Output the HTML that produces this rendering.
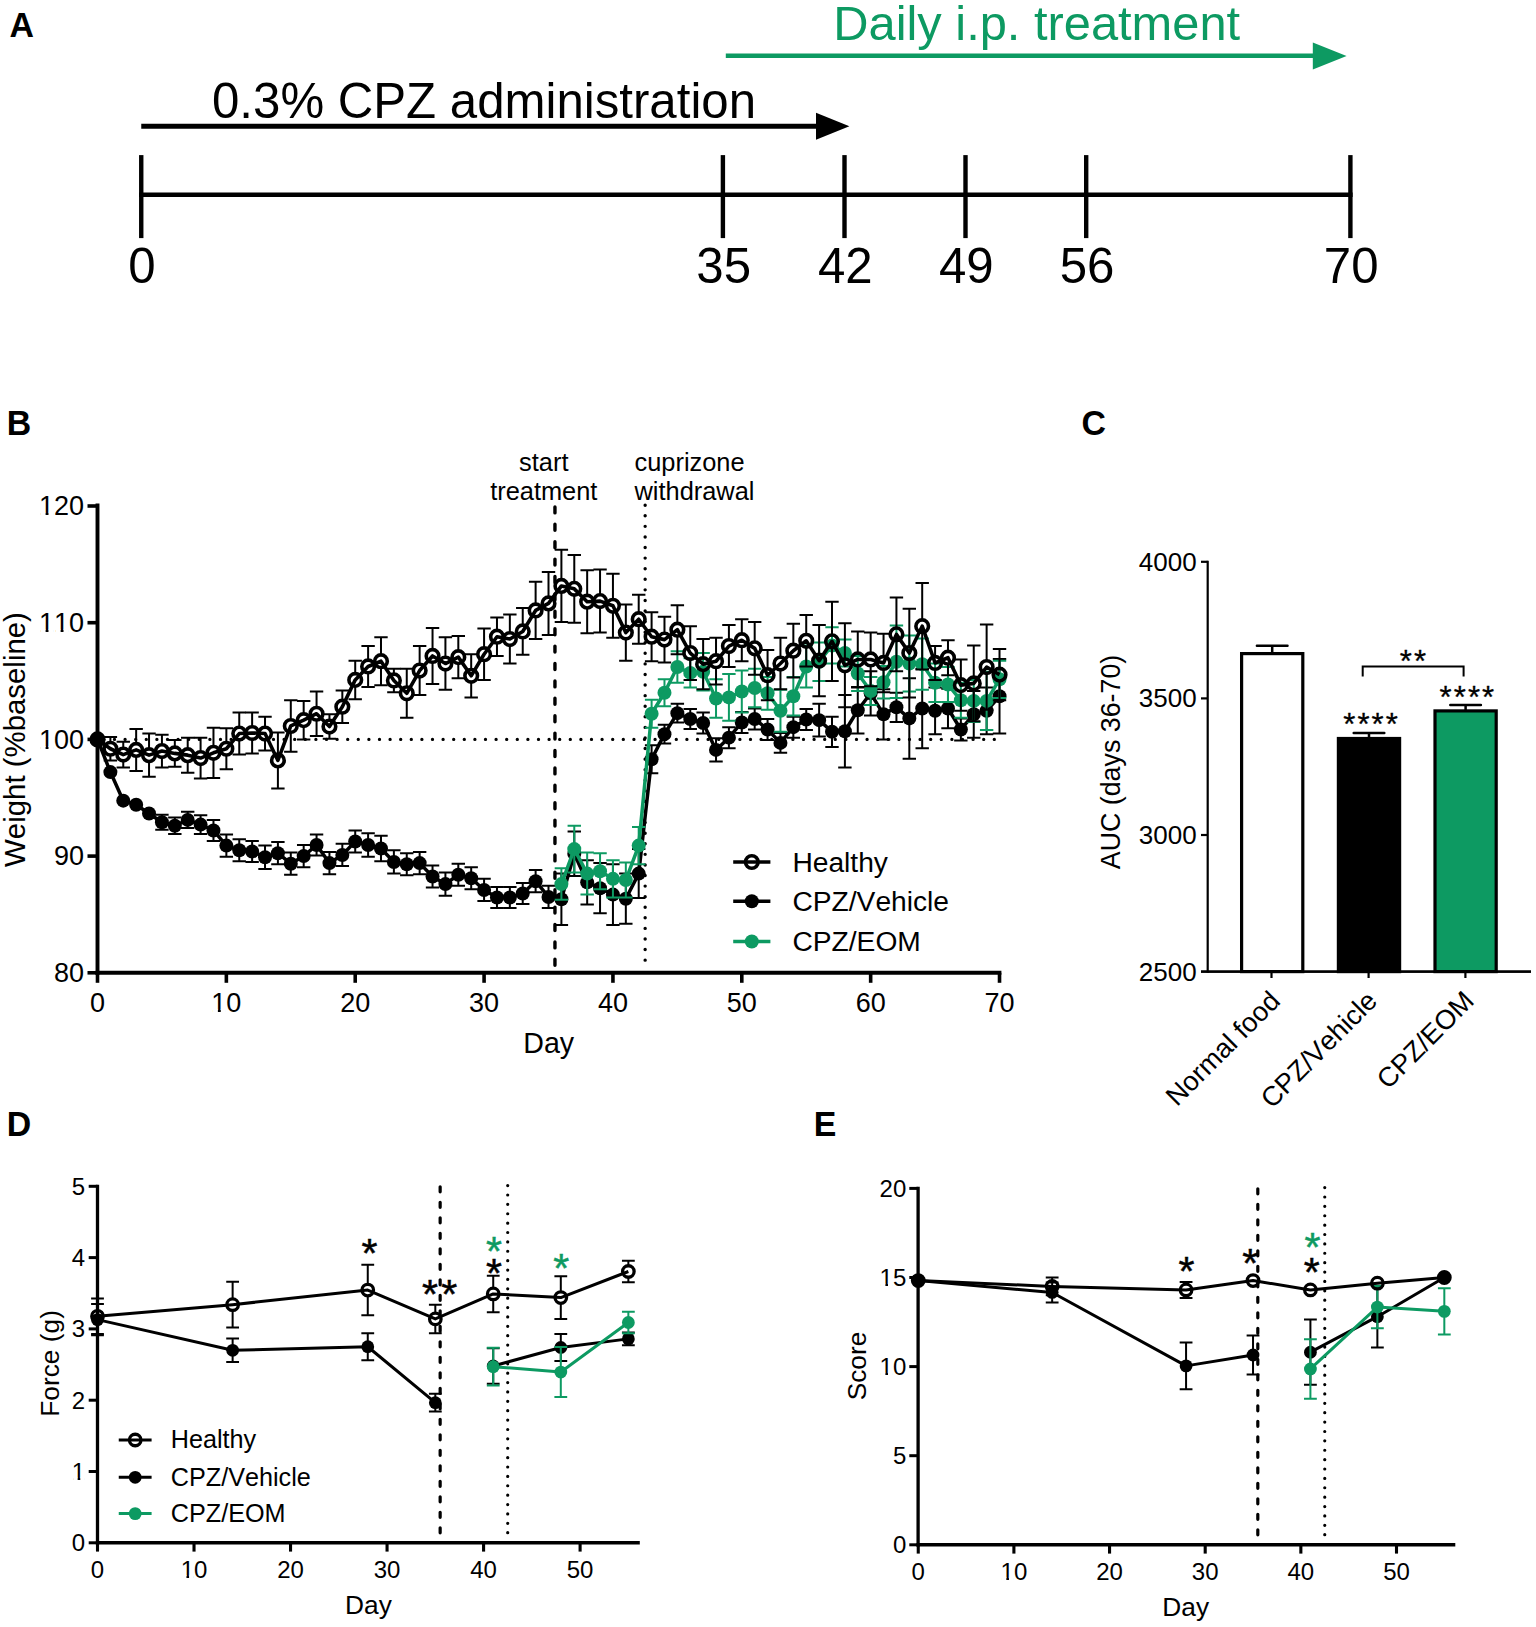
<!DOCTYPE html>
<html lang="en"><head><meta charset="utf-8"><title>Figure</title>
<style>
html,body{margin:0;padding:0;background:#fff;}
body{width:1536px;height:1627px;overflow:hidden;}
svg{display:block;font-family:'Liberation Sans', Arial, sans-serif;font-kerning:none;}
</style></head><body>
<svg width="1536" height="1627" viewBox="0 0 1536 1627">
<rect width="1536" height="1627" fill="#fff"/>
<text transform="translate(9.6,36.8) scale(0.985,1)" font-size="34.4" font-weight="bold" fill="#000">A</text>
<text transform="translate(6.7,435.0) scale(0.985,1)" font-size="34.4" font-weight="bold" fill="#000">B</text>
<text transform="translate(1081.4,435.2) scale(0.985,1)" font-size="34.4" font-weight="bold" fill="#000">C</text>
<text transform="translate(6.7,1135.8) scale(0.985,1)" font-size="34.4" font-weight="bold" fill="#000">D</text>
<text transform="translate(813.8,1135.8) scale(0.985,1)" font-size="34.4" font-weight="bold" fill="#000">E</text>
<text x="833.30" y="40.40" font-size="48.8" text-anchor="start" fill="#0d9a62" font-weight="normal" >Daily i.p. treatment</text>
<line x1="725.80" y1="55.80" x2="1318.00" y2="55.80" stroke="#0d9a62" stroke-width="4.6" />
<polygon points="1312.8,42.4 1346.6,55.9 1312.8,69.4" fill="#0d9a62"/>
<text x="212.00" y="118.00" font-size="49.2" text-anchor="start" fill="#000" font-weight="normal" >0.3% CPZ administration</text>
<line x1="141.25" y1="126.30" x2="820.00" y2="126.30" stroke="#000" stroke-width="4.9" />
<polygon points="816,112.8 849.4,126.3 816,139.8" fill="#000"/>
<line x1="139.05" y1="194.80" x2="1352.60" y2="194.80" stroke="#000" stroke-width="4.5" />
<line x1="141.25" y1="155.10" x2="141.25" y2="238.10" stroke="#000" stroke-width="4.4" />
<text x="142.05" y="283.00" font-size="49.2" text-anchor="middle" fill="#000" font-weight="normal" >0</text>
<line x1="722.90" y1="155.10" x2="722.90" y2="238.10" stroke="#000" stroke-width="4.4" />
<text x="723.70" y="283.00" font-size="49.2" text-anchor="middle" fill="#000" font-weight="normal" >35</text>
<line x1="844.50" y1="155.10" x2="844.50" y2="238.10" stroke="#000" stroke-width="4.4" />
<text x="845.30" y="283.00" font-size="49.2" text-anchor="middle" fill="#000" font-weight="normal" >42</text>
<line x1="965.50" y1="155.10" x2="965.50" y2="238.10" stroke="#000" stroke-width="4.4" />
<text x="966.30" y="283.00" font-size="49.2" text-anchor="middle" fill="#000" font-weight="normal" >49</text>
<line x1="1086.20" y1="155.10" x2="1086.20" y2="238.10" stroke="#000" stroke-width="4.4" />
<text x="1087.00" y="283.00" font-size="49.2" text-anchor="middle" fill="#000" font-weight="normal" >56</text>
<line x1="1350.40" y1="155.10" x2="1350.40" y2="238.10" stroke="#000" stroke-width="4.4" />
<text x="1351.20" y="283.00" font-size="49.2" text-anchor="middle" fill="#000" font-weight="normal" >70</text>
<line x1="994.30" y1="739.40" x2="100.00" y2="739.40" stroke="#000" stroke-width="3.3" stroke-linecap="round" stroke-dasharray="0.01 10.59"/>
<line x1="554.95" y1="506.90" x2="554.95" y2="970.00" stroke="#000" stroke-width="3.4" stroke-linecap="round" stroke-dasharray="6.0 11.4"/>
<line x1="645.15" y1="505.20" x2="645.15" y2="970.00" stroke="#000" stroke-width="3.4" stroke-linecap="round" stroke-dasharray="0.01 10.57"/>
<path d="M161.93 814.67V829.84M155.23 814.67H168.63M155.23 829.84H168.63" stroke="#000" stroke-width="2.0" fill="none"/>
<path d="M174.82 817.59V833.93M168.12 817.59H181.52M168.12 833.93H181.52" stroke="#000" stroke-width="2.0" fill="none"/>
<path d="M187.70 811.75V828.09M181.00 811.75H194.40M181.00 828.09H194.40" stroke="#000" stroke-width="2.0" fill="none"/>
<path d="M200.59 815.25V833.93M193.89 815.25H207.29M193.89 833.93H207.29" stroke="#000" stroke-width="2.0" fill="none"/>
<path d="M213.47 819.92V840.93M206.77 819.92H220.17M206.77 840.93H220.17" stroke="#000" stroke-width="2.0" fill="none"/>
<path d="M226.36 834.51V856.68M219.66 834.51H233.06M219.66 856.68H233.06" stroke="#000" stroke-width="2.0" fill="none"/>
<path d="M239.25 839.18V861.35M232.55 839.18H245.95M232.55 861.35H245.95" stroke="#000" stroke-width="2.0" fill="none"/>
<path d="M252.13 840.93V861.93M245.43 840.93H258.83M245.43 861.93H258.83" stroke="#000" stroke-width="2.0" fill="none"/>
<path d="M265.02 845.60V868.94M258.32 845.60H271.72M258.32 868.94H271.72" stroke="#000" stroke-width="2.0" fill="none"/>
<path d="M277.90 842.10V864.27M271.20 842.10H284.60M271.20 864.27H284.60" stroke="#000" stroke-width="2.0" fill="none"/>
<path d="M290.79 852.60V874.77M284.09 852.60H297.49M284.09 874.77H297.49" stroke="#000" stroke-width="2.0" fill="none"/>
<path d="M303.68 845.01V867.19M296.98 845.01H310.38M296.98 867.19H310.38" stroke="#000" stroke-width="2.0" fill="none"/>
<path d="M316.56 834.51V855.52M309.86 834.51H323.26M309.86 855.52H323.26" stroke="#000" stroke-width="2.0" fill="none"/>
<path d="M329.45 852.02V874.19M322.75 852.02H336.15M322.75 874.19H336.15" stroke="#000" stroke-width="2.0" fill="none"/>
<path d="M342.33 843.85V866.02M335.63 843.85H349.03M335.63 866.02H349.03" stroke="#000" stroke-width="2.0" fill="none"/>
<path d="M355.22 830.43V852.60M348.52 830.43H361.92M348.52 852.60H361.92" stroke="#000" stroke-width="2.0" fill="none"/>
<path d="M368.11 833.34V856.68M361.41 833.34H374.81M361.41 856.68H374.81" stroke="#000" stroke-width="2.0" fill="none"/>
<path d="M380.99 835.68V861.35M374.29 835.68H387.69M374.29 861.35H387.69" stroke="#000" stroke-width="2.0" fill="none"/>
<path d="M393.88 850.26V873.61M387.18 850.26H400.58M387.18 873.61H400.58" stroke="#000" stroke-width="2.0" fill="none"/>
<path d="M406.76 853.18V875.36M400.06 853.18H413.46M400.06 875.36H413.46" stroke="#000" stroke-width="2.0" fill="none"/>
<path d="M419.65 852.02V874.19M412.95 852.02H426.35M412.95 874.19H426.35" stroke="#000" stroke-width="2.0" fill="none"/>
<path d="M432.54 865.44V887.61M425.84 865.44H439.24M425.84 887.61H439.24" stroke="#000" stroke-width="2.0" fill="none"/>
<path d="M445.42 872.44V895.78M438.72 872.44H452.12M438.72 895.78H452.12" stroke="#000" stroke-width="2.0" fill="none"/>
<path d="M458.31 863.69V885.86M451.61 863.69H465.01M451.61 885.86H465.01" stroke="#000" stroke-width="2.0" fill="none"/>
<path d="M471.19 867.19V889.36M464.49 867.19H477.89M464.49 889.36H477.89" stroke="#000" stroke-width="2.0" fill="none"/>
<path d="M484.08 878.86V901.03M477.38 878.86H490.78M477.38 901.03H490.78" stroke="#000" stroke-width="2.0" fill="none"/>
<path d="M496.97 887.03V908.03M490.27 887.03H503.67M490.27 908.03H503.67" stroke="#000" stroke-width="2.0" fill="none"/>
<path d="M509.85 887.03V908.03M503.15 887.03H516.55M503.15 908.03H516.55" stroke="#000" stroke-width="2.0" fill="none"/>
<path d="M522.74 882.94V903.95M516.04 882.94H529.44M516.04 903.95H529.44" stroke="#000" stroke-width="2.0" fill="none"/>
<path d="M535.62 870.10V892.28M528.92 870.10H542.32M528.92 892.28H542.32" stroke="#000" stroke-width="2.0" fill="none"/>
<path d="M548.51 885.86V908.03M541.81 885.86H555.21M541.81 908.03H555.21" stroke="#000" stroke-width="2.0" fill="none"/>
<path d="M561.40 873.61V924.95M554.70 873.61H568.10M554.70 924.95H568.10" stroke="#000" stroke-width="2.0" fill="none"/>
<path d="M574.28 831.59V875.94M567.58 831.59H580.98M567.58 875.94H580.98" stroke="#000" stroke-width="2.0" fill="none"/>
<path d="M587.17 860.18V904.53M580.47 860.18H593.87M580.47 904.53H593.87" stroke="#000" stroke-width="2.0" fill="none"/>
<path d="M600.05 863.10V913.28M593.35 863.10H606.75M593.35 913.28H606.75" stroke="#000" stroke-width="2.0" fill="none"/>
<path d="M612.94 864.27V924.95M606.24 864.27H619.64M606.24 924.95H619.64" stroke="#000" stroke-width="2.0" fill="none"/>
<path d="M625.83 873.61V923.79M619.13 873.61H632.53M619.13 923.79H632.53" stroke="#000" stroke-width="2.0" fill="none"/>
<path d="M638.71 849.10V898.11M632.01 849.10H645.41M632.01 898.11H645.41" stroke="#000" stroke-width="2.0" fill="none"/>
<path d="M651.60 745.23V773.24M644.90 745.23H658.30M644.90 773.24H658.30" stroke="#000" stroke-width="2.0" fill="none"/>
<path d="M664.48 724.81V743.48M657.78 724.81H671.18M657.78 743.48H671.18" stroke="#000" stroke-width="2.0" fill="none"/>
<path d="M677.37 703.81V722.48M670.67 703.81H684.07M670.67 722.48H684.07" stroke="#000" stroke-width="2.0" fill="none"/>
<path d="M690.26 709.06V728.90M683.56 709.06H696.96M683.56 728.90H696.96" stroke="#000" stroke-width="2.0" fill="none"/>
<path d="M703.14 712.56V733.56M696.44 712.56H709.84M696.44 733.56H709.84" stroke="#000" stroke-width="2.0" fill="none"/>
<path d="M716.03 738.23V761.57M709.33 738.23H722.73M709.33 761.57H722.73" stroke="#000" stroke-width="2.0" fill="none"/>
<path d="M728.91 727.15V748.15M722.21 727.15H735.61M722.21 748.15H735.61" stroke="#000" stroke-width="2.0" fill="none"/>
<path d="M741.80 711.98V732.98M735.10 711.98H748.50M735.10 732.98H748.50" stroke="#000" stroke-width="2.0" fill="none"/>
<path d="M754.69 708.47V729.48M747.99 708.47H761.39M747.99 729.48H761.39" stroke="#000" stroke-width="2.0" fill="none"/>
<path d="M767.57 718.98V739.98M760.87 718.98H774.27M760.87 739.98H774.27" stroke="#000" stroke-width="2.0" fill="none"/>
<path d="M780.46 732.98V752.82M773.76 732.98H787.16M773.76 752.82H787.16" stroke="#000" stroke-width="2.0" fill="none"/>
<path d="M793.34 716.64V737.65M786.64 716.64H800.04M786.64 737.65H800.04" stroke="#000" stroke-width="2.0" fill="none"/>
<path d="M806.23 709.06V730.06M799.53 709.06H812.93M799.53 730.06H812.93" stroke="#000" stroke-width="2.0" fill="none"/>
<path d="M819.12 703.81V736.48M812.42 703.81H825.82M812.42 736.48H825.82" stroke="#000" stroke-width="2.0" fill="none"/>
<path d="M832.00 716.64V746.99M825.30 716.64H838.70M825.30 746.99H838.70" stroke="#000" stroke-width="2.0" fill="none"/>
<path d="M844.89 695.05V767.41M838.19 695.05H851.59M838.19 767.41H851.59" stroke="#000" stroke-width="2.0" fill="none"/>
<path d="M857.77 686.88V733.56M851.07 686.88H864.47M851.07 733.56H864.47" stroke="#000" stroke-width="2.0" fill="none"/>
<path d="M870.66 671.13V715.48M863.96 671.13H877.36M863.96 715.48H877.36" stroke="#000" stroke-width="2.0" fill="none"/>
<path d="M883.55 689.22V739.40M876.85 689.22H890.25M876.85 739.40H890.25" stroke="#000" stroke-width="2.0" fill="none"/>
<path d="M896.43 692.72V721.89M889.73 692.72H903.13M889.73 721.89H903.13" stroke="#000" stroke-width="2.0" fill="none"/>
<path d="M909.32 678.13V758.66M902.62 678.13H916.02M902.62 758.66H916.02" stroke="#000" stroke-width="2.0" fill="none"/>
<path d="M922.20 668.80V748.15M915.50 668.80H928.90M915.50 748.15H928.90" stroke="#000" stroke-width="2.0" fill="none"/>
<path d="M935.09 687.47V734.15M928.39 687.47H941.79M928.39 734.15H941.79" stroke="#000" stroke-width="2.0" fill="none"/>
<path d="M947.98 688.64V728.31M941.28 688.64H954.68M941.28 728.31H954.68" stroke="#000" stroke-width="2.0" fill="none"/>
<path d="M960.86 718.39V740.57M954.16 718.39H967.56M954.16 740.57H967.56" stroke="#000" stroke-width="2.0" fill="none"/>
<path d="M973.75 690.97V737.65M967.05 690.97H980.45M967.05 737.65H980.45" stroke="#000" stroke-width="2.0" fill="none"/>
<path d="M986.63 687.47V734.15M979.93 687.47H993.33M979.93 734.15H993.33" stroke="#000" stroke-width="2.0" fill="none"/>
<path d="M999.52 658.88V733.56M992.82 658.88H1006.22M992.82 733.56H1006.22" stroke="#000" stroke-width="2.0" fill="none"/>
<circle cx="97.50" cy="739.40" r="7.0" fill="#000"/>
<circle cx="110.39" cy="772.08" r="7.0" fill="#000"/>
<circle cx="123.27" cy="800.67" r="7.0" fill="#000"/>
<circle cx="136.16" cy="804.75" r="7.0" fill="#000"/>
<circle cx="149.04" cy="813.50" r="7.0" fill="#000"/>
<circle cx="161.93" cy="822.26" r="7.0" fill="#000"/>
<circle cx="174.82" cy="825.76" r="7.0" fill="#000"/>
<circle cx="187.70" cy="819.92" r="7.0" fill="#000"/>
<circle cx="200.59" cy="824.59" r="7.0" fill="#000"/>
<circle cx="213.47" cy="830.43" r="7.0" fill="#000"/>
<circle cx="226.36" cy="845.60" r="7.0" fill="#000"/>
<circle cx="239.25" cy="850.26" r="7.0" fill="#000"/>
<circle cx="252.13" cy="851.43" r="7.0" fill="#000"/>
<circle cx="265.02" cy="857.27" r="7.0" fill="#000"/>
<circle cx="277.90" cy="853.18" r="7.0" fill="#000"/>
<circle cx="290.79" cy="863.69" r="7.0" fill="#000"/>
<circle cx="303.68" cy="856.10" r="7.0" fill="#000"/>
<circle cx="316.56" cy="845.01" r="7.0" fill="#000"/>
<circle cx="329.45" cy="863.10" r="7.0" fill="#000"/>
<circle cx="342.33" cy="854.93" r="7.0" fill="#000"/>
<circle cx="355.22" cy="841.51" r="7.0" fill="#000"/>
<circle cx="368.11" cy="845.01" r="7.0" fill="#000"/>
<circle cx="380.99" cy="848.51" r="7.0" fill="#000"/>
<circle cx="393.88" cy="861.93" r="7.0" fill="#000"/>
<circle cx="406.76" cy="864.27" r="7.0" fill="#000"/>
<circle cx="419.65" cy="863.10" r="7.0" fill="#000"/>
<circle cx="432.54" cy="876.52" r="7.0" fill="#000"/>
<circle cx="445.42" cy="884.11" r="7.0" fill="#000"/>
<circle cx="458.31" cy="874.77" r="7.0" fill="#000"/>
<circle cx="471.19" cy="878.27" r="7.0" fill="#000"/>
<circle cx="484.08" cy="889.94" r="7.0" fill="#000"/>
<circle cx="496.97" cy="897.53" r="7.0" fill="#000"/>
<circle cx="509.85" cy="897.53" r="7.0" fill="#000"/>
<circle cx="522.74" cy="893.44" r="7.0" fill="#000"/>
<circle cx="535.62" cy="881.19" r="7.0" fill="#000"/>
<circle cx="548.51" cy="896.94" r="7.0" fill="#000"/>
<circle cx="561.40" cy="899.28" r="7.0" fill="#000"/>
<circle cx="574.28" cy="853.77" r="7.0" fill="#000"/>
<circle cx="587.17" cy="882.36" r="7.0" fill="#000"/>
<circle cx="600.05" cy="888.19" r="7.0" fill="#000"/>
<circle cx="612.94" cy="894.61" r="7.0" fill="#000"/>
<circle cx="625.83" cy="898.70" r="7.0" fill="#000"/>
<circle cx="638.71" cy="873.61" r="7.0" fill="#000"/>
<circle cx="651.60" cy="759.24" r="7.0" fill="#000"/>
<circle cx="664.48" cy="734.15" r="7.0" fill="#000"/>
<circle cx="677.37" cy="713.14" r="7.0" fill="#000"/>
<circle cx="690.26" cy="718.98" r="7.0" fill="#000"/>
<circle cx="703.14" cy="723.06" r="7.0" fill="#000"/>
<circle cx="716.03" cy="749.90" r="7.0" fill="#000"/>
<circle cx="728.91" cy="737.65" r="7.0" fill="#000"/>
<circle cx="741.80" cy="722.48" r="7.0" fill="#000"/>
<circle cx="754.69" cy="718.98" r="7.0" fill="#000"/>
<circle cx="767.57" cy="729.48" r="7.0" fill="#000"/>
<circle cx="780.46" cy="742.90" r="7.0" fill="#000"/>
<circle cx="793.34" cy="727.15" r="7.0" fill="#000"/>
<circle cx="806.23" cy="719.56" r="7.0" fill="#000"/>
<circle cx="819.12" cy="720.14" r="7.0" fill="#000"/>
<circle cx="832.00" cy="731.81" r="7.0" fill="#000"/>
<circle cx="844.89" cy="731.23" r="7.0" fill="#000"/>
<circle cx="857.77" cy="710.22" r="7.0" fill="#000"/>
<circle cx="870.66" cy="693.30" r="7.0" fill="#000"/>
<circle cx="883.55" cy="714.31" r="7.0" fill="#000"/>
<circle cx="896.43" cy="707.31" r="7.0" fill="#000"/>
<circle cx="909.32" cy="718.39" r="7.0" fill="#000"/>
<circle cx="922.20" cy="708.47" r="7.0" fill="#000"/>
<circle cx="935.09" cy="710.81" r="7.0" fill="#000"/>
<circle cx="947.98" cy="708.47" r="7.0" fill="#000"/>
<circle cx="960.86" cy="729.48" r="7.0" fill="#000"/>
<circle cx="973.75" cy="714.31" r="7.0" fill="#000"/>
<circle cx="986.63" cy="710.81" r="7.0" fill="#000"/>
<circle cx="999.52" cy="696.22" r="7.0" fill="#000"/>
<polyline points="97.50,739.40 110.39,772.08 123.27,800.67 136.16,804.75 149.04,813.50 161.93,822.26 174.82,825.76 187.70,819.92 200.59,824.59 213.47,830.43 226.36,845.60 239.25,850.26 252.13,851.43 265.02,857.27 277.90,853.18 290.79,863.69 303.68,856.10 316.56,845.01 329.45,863.10 342.33,854.93 355.22,841.51 368.11,845.01 380.99,848.51 393.88,861.93 406.76,864.27 419.65,863.10 432.54,876.52 445.42,884.11 458.31,874.77 471.19,878.27 484.08,889.94 496.97,897.53 509.85,897.53 522.74,893.44 535.62,881.19 548.51,896.94 561.40,899.28 574.28,853.77 587.17,882.36 600.05,888.19 612.94,894.61 625.83,898.70 638.71,873.61 651.60,759.24 664.48,734.15 677.37,713.14 690.26,718.98 703.14,723.06 716.03,749.90 728.91,737.65 741.80,722.48 754.69,718.98 767.57,729.48 780.46,742.90 793.34,727.15 806.23,719.56 819.12,720.14 832.00,731.81 844.89,731.23 857.77,710.22 870.66,693.30 883.55,714.31 896.43,707.31 909.32,718.39 922.20,708.47 935.09,710.81 947.98,708.47 960.86,729.48 973.75,714.31 986.63,710.81 999.52,696.22" fill="none" stroke="#000" stroke-width="3.5" stroke-linejoin="round"/>
<path d="M561.40 868.35V899.86M554.70 868.35H568.10M554.70 899.86H568.10" stroke="#0d9a62" stroke-width="2.0" fill="none"/>
<path d="M574.28 825.76V872.44M567.58 825.76H580.98M567.58 872.44H580.98" stroke="#0d9a62" stroke-width="2.0" fill="none"/>
<path d="M587.17 852.60V894.61M580.47 852.60H593.87M580.47 894.61H593.87" stroke="#0d9a62" stroke-width="2.0" fill="none"/>
<path d="M600.05 853.18V889.36M593.35 853.18H606.75M593.35 889.36H606.75" stroke="#0d9a62" stroke-width="2.0" fill="none"/>
<path d="M612.94 860.18V897.53M606.24 860.18H619.64M606.24 897.53H619.64" stroke="#0d9a62" stroke-width="2.0" fill="none"/>
<path d="M625.83 862.52V897.53M619.13 862.52H632.53M619.13 897.53H632.53" stroke="#0d9a62" stroke-width="2.0" fill="none"/>
<path d="M638.71 826.92V864.27M632.01 826.92H645.41M632.01 864.27H645.41" stroke="#0d9a62" stroke-width="2.0" fill="none"/>
<path d="M651.60 699.72V727.73M644.90 699.72H658.30M644.90 727.73H658.30" stroke="#0d9a62" stroke-width="2.0" fill="none"/>
<path d="M664.48 679.30V706.14M657.78 679.30H671.18M657.78 706.14H671.18" stroke="#0d9a62" stroke-width="2.0" fill="none"/>
<path d="M677.37 651.29V682.80M670.67 651.29H684.07M670.67 682.80H684.07" stroke="#0d9a62" stroke-width="2.0" fill="none"/>
<path d="M690.26 658.29V687.47M683.56 658.29H696.96M683.56 687.47H696.96" stroke="#0d9a62" stroke-width="2.0" fill="none"/>
<path d="M703.14 653.04V690.39M696.44 653.04H709.84M696.44 690.39H709.84" stroke="#0d9a62" stroke-width="2.0" fill="none"/>
<path d="M716.03 679.30V717.81M709.33 679.30H722.73M709.33 717.81H722.73" stroke="#0d9a62" stroke-width="2.0" fill="none"/>
<path d="M728.91 674.05V720.73M722.21 674.05H735.61M722.21 720.73H735.61" stroke="#0d9a62" stroke-width="2.0" fill="none"/>
<path d="M741.80 670.55V712.56M735.10 670.55H748.50M735.10 712.56H748.50" stroke="#0d9a62" stroke-width="2.0" fill="none"/>
<path d="M754.69 668.80V707.31M747.99 668.80H761.39M747.99 707.31H761.39" stroke="#0d9a62" stroke-width="2.0" fill="none"/>
<path d="M767.57 676.97V709.64M760.87 676.97H774.27M760.87 709.64H774.27" stroke="#0d9a62" stroke-width="2.0" fill="none"/>
<path d="M780.46 689.80V731.81M773.76 689.80H787.16M773.76 731.81H787.16" stroke="#0d9a62" stroke-width="2.0" fill="none"/>
<path d="M793.34 676.97V715.48M786.64 676.97H800.04M786.64 715.48H800.04" stroke="#0d9a62" stroke-width="2.0" fill="none"/>
<path d="M806.23 645.46V687.47M799.53 645.46H812.93M799.53 687.47H812.93" stroke="#0d9a62" stroke-width="2.0" fill="none"/>
<path d="M819.12 642.54V681.05M812.42 642.54H825.82M812.42 681.05H825.82" stroke="#0d9a62" stroke-width="2.0" fill="none"/>
<path d="M832.00 627.37V663.54M825.30 627.37H838.70M825.30 663.54H838.70" stroke="#0d9a62" stroke-width="2.0" fill="none"/>
<path d="M844.89 639.62V666.46M838.19 639.62H851.59M838.19 666.46H851.59" stroke="#0d9a62" stroke-width="2.0" fill="none"/>
<path d="M857.77 655.96V690.97M851.07 655.96H864.47M851.07 690.97H864.47" stroke="#0d9a62" stroke-width="2.0" fill="none"/>
<path d="M870.66 676.97V704.97M863.96 676.97H877.36M863.96 704.97H877.36" stroke="#0d9a62" stroke-width="2.0" fill="none"/>
<path d="M883.55 665.88V698.55M876.85 665.88H890.25M876.85 698.55H890.25" stroke="#0d9a62" stroke-width="2.0" fill="none"/>
<path d="M896.43 625.62V697.97M889.73 625.62H903.13M889.73 697.97H903.13" stroke="#0d9a62" stroke-width="2.0" fill="none"/>
<path d="M909.32 635.54V691.55M902.62 635.54H916.02M902.62 691.55H916.02" stroke="#0d9a62" stroke-width="2.0" fill="none"/>
<path d="M922.20 638.45V689.80M915.50 638.45H928.90M915.50 689.80H928.90" stroke="#0d9a62" stroke-width="2.0" fill="none"/>
<path d="M935.09 663.54V702.06M928.39 663.54H941.79M928.39 702.06H941.79" stroke="#0d9a62" stroke-width="2.0" fill="none"/>
<path d="M947.98 667.05V702.06M941.28 667.05H954.68M941.28 702.06H954.68" stroke="#0d9a62" stroke-width="2.0" fill="none"/>
<path d="M960.86 682.80V717.81M954.16 682.80H967.56M954.16 717.81H967.56" stroke="#0d9a62" stroke-width="2.0" fill="none"/>
<path d="M973.75 679.88V721.89M967.05 679.88H980.45M967.05 721.89H980.45" stroke="#0d9a62" stroke-width="2.0" fill="none"/>
<path d="M986.63 671.71V730.06M979.93 671.71H993.33M979.93 730.06H993.33" stroke="#0d9a62" stroke-width="2.0" fill="none"/>
<path d="M999.52 660.63V697.97M992.82 660.63H1006.22M992.82 697.97H1006.22" stroke="#0d9a62" stroke-width="2.0" fill="none"/>
<circle cx="561.40" cy="884.11" r="7.0" fill="#0d9a62"/>
<circle cx="574.28" cy="849.10" r="7.0" fill="#0d9a62"/>
<circle cx="587.17" cy="873.61" r="7.0" fill="#0d9a62"/>
<circle cx="600.05" cy="871.27" r="7.0" fill="#0d9a62"/>
<circle cx="612.94" cy="878.86" r="7.0" fill="#0d9a62"/>
<circle cx="625.83" cy="880.02" r="7.0" fill="#0d9a62"/>
<circle cx="638.71" cy="845.60" r="7.0" fill="#0d9a62"/>
<circle cx="651.60" cy="713.73" r="7.0" fill="#0d9a62"/>
<circle cx="664.48" cy="692.72" r="7.0" fill="#0d9a62"/>
<circle cx="677.37" cy="667.05" r="7.0" fill="#0d9a62"/>
<circle cx="690.26" cy="672.88" r="7.0" fill="#0d9a62"/>
<circle cx="703.14" cy="671.71" r="7.0" fill="#0d9a62"/>
<circle cx="716.03" cy="698.55" r="7.0" fill="#0d9a62"/>
<circle cx="728.91" cy="697.39" r="7.0" fill="#0d9a62"/>
<circle cx="741.80" cy="691.55" r="7.0" fill="#0d9a62"/>
<circle cx="754.69" cy="688.05" r="7.0" fill="#0d9a62"/>
<circle cx="767.57" cy="693.30" r="7.0" fill="#0d9a62"/>
<circle cx="780.46" cy="710.81" r="7.0" fill="#0d9a62"/>
<circle cx="793.34" cy="696.22" r="7.0" fill="#0d9a62"/>
<circle cx="806.23" cy="666.46" r="7.0" fill="#0d9a62"/>
<circle cx="819.12" cy="661.79" r="7.0" fill="#0d9a62"/>
<circle cx="832.00" cy="645.46" r="7.0" fill="#0d9a62"/>
<circle cx="844.89" cy="653.04" r="7.0" fill="#0d9a62"/>
<circle cx="857.77" cy="673.46" r="7.0" fill="#0d9a62"/>
<circle cx="870.66" cy="690.97" r="7.0" fill="#0d9a62"/>
<circle cx="883.55" cy="682.22" r="7.0" fill="#0d9a62"/>
<circle cx="896.43" cy="661.79" r="7.0" fill="#0d9a62"/>
<circle cx="909.32" cy="663.54" r="7.0" fill="#0d9a62"/>
<circle cx="922.20" cy="664.13" r="7.0" fill="#0d9a62"/>
<circle cx="935.09" cy="682.80" r="7.0" fill="#0d9a62"/>
<circle cx="947.98" cy="684.55" r="7.0" fill="#0d9a62"/>
<circle cx="960.86" cy="700.31" r="7.0" fill="#0d9a62"/>
<circle cx="973.75" cy="700.89" r="7.0" fill="#0d9a62"/>
<circle cx="986.63" cy="700.89" r="7.0" fill="#0d9a62"/>
<circle cx="999.52" cy="679.30" r="7.0" fill="#0d9a62"/>
<polyline points="561.40,884.11 574.28,849.10 587.17,873.61 600.05,871.27 612.94,878.86 625.83,880.02 638.71,845.60 651.60,713.73 664.48,692.72 677.37,667.05 690.26,672.88 703.14,671.71 716.03,698.55 728.91,697.39 741.80,691.55 754.69,688.05 767.57,693.30 780.46,710.81 793.34,696.22 806.23,666.46 819.12,661.79 832.00,645.46 844.89,653.04 857.77,673.46 870.66,690.97 883.55,682.22 896.43,661.79 909.32,663.54 922.20,664.13 935.09,682.80 947.98,684.55 960.86,700.31 973.75,700.89 986.63,700.89 999.52,679.30" fill="none" stroke="#0d9a62" stroke-width="3.5" stroke-linejoin="round"/>
<path d="M103.69 737.07H117.09M103.69 760.41H117.09M110.39 737.07V742.64M110.39 754.84V760.41" stroke="#000" stroke-width="2.0" fill="none"/>
<path d="M116.57 741.73H129.97M116.57 767.41H129.97M123.27 741.73V748.47M123.27 760.67V767.41" stroke="#000" stroke-width="2.0" fill="none"/>
<path d="M129.46 728.90H142.86M129.46 770.91H142.86M136.16 728.90V743.80M136.16 756.00V770.91" stroke="#000" stroke-width="2.0" fill="none"/>
<path d="M142.34 733.56H155.74M142.34 776.74H155.74M149.04 733.56V749.05M149.04 761.25V776.74" stroke="#000" stroke-width="2.0" fill="none"/>
<path d="M155.23 734.73H168.63M155.23 767.41H168.63M161.93 734.73V744.97M161.93 757.17V767.41" stroke="#000" stroke-width="2.0" fill="none"/>
<path d="M168.12 739.98H181.52M168.12 766.82H181.52M174.82 739.98V747.30M174.82 759.50V766.82" stroke="#000" stroke-width="2.0" fill="none"/>
<path d="M181.00 737.65H194.40M181.00 772.66H194.40M187.70 737.65V749.05M187.70 761.25V772.66" stroke="#000" stroke-width="2.0" fill="none"/>
<path d="M193.89 737.65H207.29M193.89 778.49H207.29M200.59 737.65V751.97M200.59 764.17V778.49" stroke="#000" stroke-width="2.0" fill="none"/>
<path d="M206.77 727.73H220.17M206.77 777.91H220.17M213.47 727.73V746.72M213.47 758.92V777.91" stroke="#000" stroke-width="2.0" fill="none"/>
<path d="M219.66 728.31H233.06M219.66 769.16H233.06M226.36 728.31V742.64M226.36 754.84V769.16" stroke="#000" stroke-width="2.0" fill="none"/>
<path d="M232.55 712.56H245.95M232.55 754.57H245.95M239.25 712.56V727.46M239.25 739.66V754.57" stroke="#000" stroke-width="2.0" fill="none"/>
<path d="M245.43 712.56H258.83M245.43 753.40H258.83M252.13 712.56V726.88M252.13 739.08V753.40" stroke="#000" stroke-width="2.0" fill="none"/>
<path d="M258.32 716.64H271.72M258.32 750.49H271.72M265.02 716.64V727.46M265.02 739.66V750.49" stroke="#000" stroke-width="2.0" fill="none"/>
<path d="M271.20 732.40H284.60M271.20 788.41H284.60M277.90 732.40V754.31M277.90 766.51V788.41" stroke="#000" stroke-width="2.0" fill="none"/>
<path d="M284.09 700.31H297.49M284.09 751.65H297.49M290.79 700.31V719.88M290.79 732.08V751.65" stroke="#000" stroke-width="2.0" fill="none"/>
<path d="M296.98 700.89H310.38M296.98 739.40H310.38M303.68 700.89V714.04M303.68 726.24V739.40" stroke="#000" stroke-width="2.0" fill="none"/>
<path d="M309.86 691.55H323.26M309.86 735.90H323.26M316.56 691.55V707.63M316.56 719.83V735.90" stroke="#000" stroke-width="2.0" fill="none"/>
<path d="M322.75 714.31H336.15M322.75 738.82H336.15M329.45 714.31V720.46M329.45 732.66V738.82" stroke="#000" stroke-width="2.0" fill="none"/>
<path d="M335.63 690.39H349.03M335.63 723.06H349.03M342.33 690.39V700.62M342.33 712.82V723.06" stroke="#000" stroke-width="2.0" fill="none"/>
<path d="M348.52 660.63H361.92M348.52 699.14H361.92M355.22 660.63V673.78M355.22 685.98V699.14" stroke="#000" stroke-width="2.0" fill="none"/>
<path d="M361.41 646.04H374.81M361.41 686.88H374.81M368.11 646.04V660.36M368.11 672.56V686.88" stroke="#000" stroke-width="2.0" fill="none"/>
<path d="M374.29 637.29H387.69M374.29 685.13H387.69M380.99 637.29V655.11M380.99 667.31V685.13" stroke="#000" stroke-width="2.0" fill="none"/>
<path d="M387.18 668.80H400.58M387.18 692.14H400.58M393.88 668.80V674.37M393.88 686.57V692.14" stroke="#000" stroke-width="2.0" fill="none"/>
<path d="M400.06 668.80H413.46M400.06 717.81H413.46M406.76 668.80V687.20M406.76 699.40V717.81" stroke="#000" stroke-width="2.0" fill="none"/>
<path d="M412.95 646.04H426.35M412.95 695.05H426.35M419.65 646.04V664.45M419.65 676.65V695.05" stroke="#000" stroke-width="2.0" fill="none"/>
<path d="M425.84 627.95H439.24M425.84 683.97H439.24M432.54 627.95V649.86M432.54 662.06V683.97" stroke="#000" stroke-width="2.0" fill="none"/>
<path d="M438.72 637.29H452.12M438.72 689.80H452.12M445.42 637.29V657.44M445.42 669.64V689.80" stroke="#000" stroke-width="2.0" fill="none"/>
<path d="M451.61 636.12H465.01M451.61 678.13H465.01M458.31 636.12V651.03M458.31 663.23V678.13" stroke="#000" stroke-width="2.0" fill="none"/>
<path d="M464.49 654.21H477.89M464.49 697.39H477.89M471.19 654.21V669.70M471.19 681.90V697.39" stroke="#000" stroke-width="2.0" fill="none"/>
<path d="M477.38 628.53H490.78M477.38 679.88H490.78M484.08 628.53V648.11M484.08 660.31V679.88" stroke="#000" stroke-width="2.0" fill="none"/>
<path d="M490.27 617.45H503.67M490.27 655.96H503.67M496.97 617.45V630.60M496.97 642.80V655.96" stroke="#000" stroke-width="2.0" fill="none"/>
<path d="M503.15 614.53H516.55M503.15 663.54H516.55M509.85 614.53V632.94M509.85 645.14V663.54" stroke="#000" stroke-width="2.0" fill="none"/>
<path d="M516.04 608.11H529.44M516.04 654.79H529.44M522.74 608.11V625.35M522.74 637.55V654.79" stroke="#000" stroke-width="2.0" fill="none"/>
<path d="M528.92 581.86H542.32M528.92 639.04H542.32M535.62 581.86V604.35M535.62 616.55V639.04" stroke="#000" stroke-width="2.0" fill="none"/>
<path d="M541.81 571.94H555.21M541.81 634.95H555.21M548.51 571.94V597.34M548.51 609.54V634.95" stroke="#000" stroke-width="2.0" fill="none"/>
<path d="M554.70 549.76H568.10M554.70 622.12H568.10M561.40 549.76V579.84M561.40 592.04V622.12" stroke="#000" stroke-width="2.0" fill="none"/>
<path d="M567.58 555.01H580.98M567.58 622.70H580.98M574.28 555.01V582.76M574.28 594.96V622.70" stroke="#000" stroke-width="2.0" fill="none"/>
<path d="M580.47 570.18H593.87M580.47 633.20H593.87M587.17 570.18V595.59M587.17 607.79V633.20" stroke="#000" stroke-width="2.0" fill="none"/>
<path d="M593.35 569.60H606.75M593.35 632.62H606.75M600.05 569.60V595.01M600.05 607.21V632.62" stroke="#000" stroke-width="2.0" fill="none"/>
<path d="M606.24 573.69H619.64M606.24 637.87H619.64M612.94 573.69V599.68M612.94 611.88V637.87" stroke="#000" stroke-width="2.0" fill="none"/>
<path d="M619.13 604.61H632.53M619.13 660.63H632.53M625.83 604.61V626.52M625.83 638.72V660.63" stroke="#000" stroke-width="2.0" fill="none"/>
<path d="M632.01 594.69H645.41M632.01 643.71H645.41M638.71 594.69V613.10M638.71 625.30V643.71" stroke="#000" stroke-width="2.0" fill="none"/>
<path d="M644.90 612.20H658.30M644.90 661.21H658.30M651.60 612.20V630.60M651.60 642.80V661.21" stroke="#000" stroke-width="2.0" fill="none"/>
<path d="M657.78 616.87H671.18M657.78 662.38H671.18M664.48 616.87V633.52M664.48 645.72V662.38" stroke="#000" stroke-width="2.0" fill="none"/>
<path d="M670.67 605.19H684.07M670.67 654.21H684.07M677.37 605.19V623.60M677.37 635.80V654.21" stroke="#000" stroke-width="2.0" fill="none"/>
<path d="M683.56 626.20H696.96M683.56 679.88H696.96M690.26 626.20V646.94M690.26 659.14V679.88" stroke="#000" stroke-width="2.0" fill="none"/>
<path d="M696.44 639.04H709.84M696.44 689.22H709.84M703.14 639.04V658.03M703.14 670.23V689.22" stroke="#000" stroke-width="2.0" fill="none"/>
<path d="M709.33 637.87H722.73M709.33 684.55H722.73M716.03 637.87V655.11M716.03 667.31V684.55" stroke="#000" stroke-width="2.0" fill="none"/>
<path d="M722.21 625.03H735.61M722.21 667.05H735.61M728.91 625.03V639.94M728.91 652.14V667.05" stroke="#000" stroke-width="2.0" fill="none"/>
<path d="M735.10 619.20H748.50M735.10 661.21H748.50M741.80 619.20V634.10M741.80 646.30V661.21" stroke="#000" stroke-width="2.0" fill="none"/>
<path d="M747.99 622.12H761.39M747.99 674.63H761.39M754.69 622.12V642.27M754.69 654.47V674.63" stroke="#000" stroke-width="2.0" fill="none"/>
<path d="M760.87 650.12H774.27M760.87 700.31H774.27M767.57 650.12V669.11M767.57 681.31V700.31" stroke="#000" stroke-width="2.0" fill="none"/>
<path d="M773.76 637.87H787.16M773.76 689.22H787.16M780.46 637.87V657.44M780.46 669.64V689.22" stroke="#000" stroke-width="2.0" fill="none"/>
<path d="M786.64 623.87H800.04M786.64 677.55H800.04M793.34 623.87V644.61M793.34 656.81V677.55" stroke="#000" stroke-width="2.0" fill="none"/>
<path d="M799.53 615.11H812.93M799.53 666.46H812.93M806.23 615.11V634.69M806.23 646.89V666.46" stroke="#000" stroke-width="2.0" fill="none"/>
<path d="M812.42 625.03H825.82M812.42 696.22H825.82M819.12 625.03V654.53M819.12 666.73V696.22" stroke="#000" stroke-width="2.0" fill="none"/>
<path d="M825.30 601.69H838.70M825.30 681.05H838.70M832.00 601.69V635.27M832.00 647.47V681.05" stroke="#000" stroke-width="2.0" fill="none"/>
<path d="M838.19 623.28H851.59M838.19 707.31H851.59M844.89 623.28V659.20M844.89 671.40V707.31" stroke="#000" stroke-width="2.0" fill="none"/>
<path d="M851.07 631.45H864.47M851.07 687.47H864.47M857.77 631.45V653.36M857.77 665.56V687.47" stroke="#000" stroke-width="2.0" fill="none"/>
<path d="M863.96 632.62H877.36M863.96 686.30H877.36M870.66 632.62V653.36M870.66 665.56V686.30" stroke="#000" stroke-width="2.0" fill="none"/>
<path d="M876.85 633.79H890.25M876.85 692.14H890.25M883.55 633.79V656.86M883.55 669.06V692.14" stroke="#000" stroke-width="2.0" fill="none"/>
<path d="M889.73 597.61H903.13M889.73 671.13H903.13M896.43 597.61V628.27M896.43 640.47V671.13" stroke="#000" stroke-width="2.0" fill="none"/>
<path d="M902.62 608.70H916.02M902.62 697.39H916.02M909.32 608.70V646.94M909.32 659.14V697.39" stroke="#000" stroke-width="2.0" fill="none"/>
<path d="M915.50 583.02H928.90M915.50 669.38H928.90M922.20 583.02V620.10M922.20 632.30V669.38" stroke="#000" stroke-width="2.0" fill="none"/>
<path d="M928.39 646.04H941.79M928.39 679.88H941.79M935.09 646.04V656.86M935.09 669.06V679.88" stroke="#000" stroke-width="2.0" fill="none"/>
<path d="M941.28 640.20H954.68M941.28 675.21H954.68M947.98 640.20V651.61M947.98 663.81V675.21" stroke="#000" stroke-width="2.0" fill="none"/>
<path d="M954.16 659.46H967.56M954.16 710.81H967.56M960.86 659.46V679.03M960.86 691.23V710.81" stroke="#000" stroke-width="2.0" fill="none"/>
<path d="M967.05 645.46H980.45M967.05 721.31H980.45M973.75 645.46V677.28M973.75 689.48V721.31" stroke="#000" stroke-width="2.0" fill="none"/>
<path d="M979.93 624.45H993.33M979.93 709.64H993.33M986.63 624.45V660.95M986.63 673.15V709.64" stroke="#000" stroke-width="2.0" fill="none"/>
<path d="M992.82 648.96H1006.22M992.82 700.31H1006.22M999.52 648.96V668.53M999.52 680.73V700.31" stroke="#000" stroke-width="2.0" fill="none"/>
<circle cx="97.50" cy="739.40" r="6.3" fill="none" stroke="#000" stroke-width="3.6"/>
<circle cx="110.39" cy="748.74" r="6.3" fill="none" stroke="#000" stroke-width="3.6"/>
<circle cx="123.27" cy="754.57" r="6.3" fill="none" stroke="#000" stroke-width="3.6"/>
<circle cx="136.16" cy="749.90" r="6.3" fill="none" stroke="#000" stroke-width="3.6"/>
<circle cx="149.04" cy="755.15" r="6.3" fill="none" stroke="#000" stroke-width="3.6"/>
<circle cx="161.93" cy="751.07" r="6.3" fill="none" stroke="#000" stroke-width="3.6"/>
<circle cx="174.82" cy="753.40" r="6.3" fill="none" stroke="#000" stroke-width="3.6"/>
<circle cx="187.70" cy="755.15" r="6.3" fill="none" stroke="#000" stroke-width="3.6"/>
<circle cx="200.59" cy="758.07" r="6.3" fill="none" stroke="#000" stroke-width="3.6"/>
<circle cx="213.47" cy="752.82" r="6.3" fill="none" stroke="#000" stroke-width="3.6"/>
<circle cx="226.36" cy="748.74" r="6.3" fill="none" stroke="#000" stroke-width="3.6"/>
<circle cx="239.25" cy="733.56" r="6.3" fill="none" stroke="#000" stroke-width="3.6"/>
<circle cx="252.13" cy="732.98" r="6.3" fill="none" stroke="#000" stroke-width="3.6"/>
<circle cx="265.02" cy="733.56" r="6.3" fill="none" stroke="#000" stroke-width="3.6"/>
<circle cx="277.90" cy="760.41" r="6.3" fill="none" stroke="#000" stroke-width="3.6"/>
<circle cx="290.79" cy="725.98" r="6.3" fill="none" stroke="#000" stroke-width="3.6"/>
<circle cx="303.68" cy="720.14" r="6.3" fill="none" stroke="#000" stroke-width="3.6"/>
<circle cx="316.56" cy="713.73" r="6.3" fill="none" stroke="#000" stroke-width="3.6"/>
<circle cx="329.45" cy="726.56" r="6.3" fill="none" stroke="#000" stroke-width="3.6"/>
<circle cx="342.33" cy="706.72" r="6.3" fill="none" stroke="#000" stroke-width="3.6"/>
<circle cx="355.22" cy="679.88" r="6.3" fill="none" stroke="#000" stroke-width="3.6"/>
<circle cx="368.11" cy="666.46" r="6.3" fill="none" stroke="#000" stroke-width="3.6"/>
<circle cx="380.99" cy="661.21" r="6.3" fill="none" stroke="#000" stroke-width="3.6"/>
<circle cx="393.88" cy="680.47" r="6.3" fill="none" stroke="#000" stroke-width="3.6"/>
<circle cx="406.76" cy="693.30" r="6.3" fill="none" stroke="#000" stroke-width="3.6"/>
<circle cx="419.65" cy="670.55" r="6.3" fill="none" stroke="#000" stroke-width="3.6"/>
<circle cx="432.54" cy="655.96" r="6.3" fill="none" stroke="#000" stroke-width="3.6"/>
<circle cx="445.42" cy="663.54" r="6.3" fill="none" stroke="#000" stroke-width="3.6"/>
<circle cx="458.31" cy="657.13" r="6.3" fill="none" stroke="#000" stroke-width="3.6"/>
<circle cx="471.19" cy="675.80" r="6.3" fill="none" stroke="#000" stroke-width="3.6"/>
<circle cx="484.08" cy="654.21" r="6.3" fill="none" stroke="#000" stroke-width="3.6"/>
<circle cx="496.97" cy="636.70" r="6.3" fill="none" stroke="#000" stroke-width="3.6"/>
<circle cx="509.85" cy="639.04" r="6.3" fill="none" stroke="#000" stroke-width="3.6"/>
<circle cx="522.74" cy="631.45" r="6.3" fill="none" stroke="#000" stroke-width="3.6"/>
<circle cx="535.62" cy="610.45" r="6.3" fill="none" stroke="#000" stroke-width="3.6"/>
<circle cx="548.51" cy="603.44" r="6.3" fill="none" stroke="#000" stroke-width="3.6"/>
<circle cx="561.40" cy="585.94" r="6.3" fill="none" stroke="#000" stroke-width="3.6"/>
<circle cx="574.28" cy="588.86" r="6.3" fill="none" stroke="#000" stroke-width="3.6"/>
<circle cx="587.17" cy="601.69" r="6.3" fill="none" stroke="#000" stroke-width="3.6"/>
<circle cx="600.05" cy="601.11" r="6.3" fill="none" stroke="#000" stroke-width="3.6"/>
<circle cx="612.94" cy="605.78" r="6.3" fill="none" stroke="#000" stroke-width="3.6"/>
<circle cx="625.83" cy="632.62" r="6.3" fill="none" stroke="#000" stroke-width="3.6"/>
<circle cx="638.71" cy="619.20" r="6.3" fill="none" stroke="#000" stroke-width="3.6"/>
<circle cx="651.60" cy="636.70" r="6.3" fill="none" stroke="#000" stroke-width="3.6"/>
<circle cx="664.48" cy="639.62" r="6.3" fill="none" stroke="#000" stroke-width="3.6"/>
<circle cx="677.37" cy="629.70" r="6.3" fill="none" stroke="#000" stroke-width="3.6"/>
<circle cx="690.26" cy="653.04" r="6.3" fill="none" stroke="#000" stroke-width="3.6"/>
<circle cx="703.14" cy="664.13" r="6.3" fill="none" stroke="#000" stroke-width="3.6"/>
<circle cx="716.03" cy="661.21" r="6.3" fill="none" stroke="#000" stroke-width="3.6"/>
<circle cx="728.91" cy="646.04" r="6.3" fill="none" stroke="#000" stroke-width="3.6"/>
<circle cx="741.80" cy="640.20" r="6.3" fill="none" stroke="#000" stroke-width="3.6"/>
<circle cx="754.69" cy="648.37" r="6.3" fill="none" stroke="#000" stroke-width="3.6"/>
<circle cx="767.57" cy="675.21" r="6.3" fill="none" stroke="#000" stroke-width="3.6"/>
<circle cx="780.46" cy="663.54" r="6.3" fill="none" stroke="#000" stroke-width="3.6"/>
<circle cx="793.34" cy="650.71" r="6.3" fill="none" stroke="#000" stroke-width="3.6"/>
<circle cx="806.23" cy="640.79" r="6.3" fill="none" stroke="#000" stroke-width="3.6"/>
<circle cx="819.12" cy="660.63" r="6.3" fill="none" stroke="#000" stroke-width="3.6"/>
<circle cx="832.00" cy="641.37" r="6.3" fill="none" stroke="#000" stroke-width="3.6"/>
<circle cx="844.89" cy="665.30" r="6.3" fill="none" stroke="#000" stroke-width="3.6"/>
<circle cx="857.77" cy="659.46" r="6.3" fill="none" stroke="#000" stroke-width="3.6"/>
<circle cx="870.66" cy="659.46" r="6.3" fill="none" stroke="#000" stroke-width="3.6"/>
<circle cx="883.55" cy="662.96" r="6.3" fill="none" stroke="#000" stroke-width="3.6"/>
<circle cx="896.43" cy="634.37" r="6.3" fill="none" stroke="#000" stroke-width="3.6"/>
<circle cx="909.32" cy="653.04" r="6.3" fill="none" stroke="#000" stroke-width="3.6"/>
<circle cx="922.20" cy="626.20" r="6.3" fill="none" stroke="#000" stroke-width="3.6"/>
<circle cx="935.09" cy="662.96" r="6.3" fill="none" stroke="#000" stroke-width="3.6"/>
<circle cx="947.98" cy="657.71" r="6.3" fill="none" stroke="#000" stroke-width="3.6"/>
<circle cx="960.86" cy="685.13" r="6.3" fill="none" stroke="#000" stroke-width="3.6"/>
<circle cx="973.75" cy="683.38" r="6.3" fill="none" stroke="#000" stroke-width="3.6"/>
<circle cx="986.63" cy="667.05" r="6.3" fill="none" stroke="#000" stroke-width="3.6"/>
<circle cx="999.52" cy="674.63" r="6.3" fill="none" stroke="#000" stroke-width="3.6"/>
<polyline points="97.50,739.40 110.39,748.74 123.27,754.57 136.16,749.90 149.04,755.15 161.93,751.07 174.82,753.40 187.70,755.15 200.59,758.07 213.47,752.82 226.36,748.74 239.25,733.56 252.13,732.98 265.02,733.56 277.90,760.41 290.79,725.98 303.68,720.14 316.56,713.73 329.45,726.56 342.33,706.72 355.22,679.88 368.11,666.46 380.99,661.21 393.88,680.47 406.76,693.30 419.65,670.55 432.54,655.96 445.42,663.54 458.31,657.13 471.19,675.80 484.08,654.21 496.97,636.70 509.85,639.04 522.74,631.45 535.62,610.45 548.51,603.44 561.40,585.94 574.28,588.86 587.17,601.69 600.05,601.11 612.94,605.78 625.83,632.62 638.71,619.20 651.60,636.70 664.48,639.62 677.37,629.70 690.26,653.04 703.14,664.13 716.03,661.21 728.91,646.04 741.80,640.20 754.69,648.37 767.57,675.21 780.46,663.54 793.34,650.71 806.23,640.79 819.12,660.63 832.00,641.37 844.89,665.30 857.77,659.46 870.66,659.46 883.55,662.96 896.43,634.37 909.32,653.04 922.20,626.20 935.09,662.96 947.98,657.71 960.86,685.13 973.75,683.38 986.63,667.05 999.52,674.63" fill="none" stroke="#000" stroke-width="3.6" stroke-linejoin="round"/>
<line x1="97.50" y1="503.50" x2="97.50" y2="974.75" stroke="#000" stroke-width="3.9" />
<line x1="95.55" y1="972.80" x2="1001.40" y2="972.80" stroke="#000" stroke-width="3.9" />
<line x1="87.50" y1="972.80" x2="97.50" y2="972.80" stroke="#000" stroke-width="3.6" />
<text x="84.10" y="982.10" font-size="27" text-anchor="end" fill="#000" font-weight="normal" >80</text>
<line x1="87.50" y1="856.10" x2="97.50" y2="856.10" stroke="#000" stroke-width="3.6" />
<text x="84.10" y="865.40" font-size="27" text-anchor="end" fill="#000" font-weight="normal" >90</text>
<line x1="87.50" y1="739.40" x2="97.50" y2="739.40" stroke="#000" stroke-width="3.6" />
<text x="84.10" y="748.70" font-size="27" text-anchor="end" fill="#000" font-weight="normal" >100</text>
<rect x="40.54" y="746.23" width="5.06" height="2.92" fill="#fff"/>
<rect x="48.48" y="746.23" width="5.13" height="2.92" fill="#fff"/>
<line x1="87.50" y1="622.70" x2="97.50" y2="622.70" stroke="#000" stroke-width="3.6" />
<text x="84.10" y="632.00" font-size="27" text-anchor="end" fill="#000" font-weight="normal" >110</text>
<rect x="40.54" y="629.53" width="5.06" height="2.92" fill="#fff"/>
<rect x="48.48" y="629.53" width="5.13" height="2.92" fill="#fff"/>
<rect x="55.55" y="629.53" width="5.06" height="2.92" fill="#fff"/>
<rect x="63.50" y="629.53" width="5.13" height="2.92" fill="#fff"/>
<line x1="87.50" y1="506.00" x2="97.50" y2="506.00" stroke="#000" stroke-width="3.6" />
<text x="84.10" y="515.30" font-size="27" text-anchor="end" fill="#000" font-weight="normal" >120</text>
<rect x="40.54" y="512.83" width="5.06" height="2.92" fill="#fff"/>
<rect x="48.48" y="512.83" width="5.13" height="2.92" fill="#fff"/>
<line x1="97.50" y1="972.80" x2="97.50" y2="982.80" stroke="#000" stroke-width="3.6" />
<text x="97.50" y="1011.80" font-size="27" text-anchor="middle" fill="#000" font-weight="normal" >0</text>
<line x1="226.36" y1="972.80" x2="226.36" y2="982.80" stroke="#000" stroke-width="3.6" />
<text x="226.36" y="1011.80" font-size="27" text-anchor="middle" fill="#000" font-weight="normal" >10</text>
<rect x="212.83" y="1009.33" width="5.06" height="2.92" fill="#fff"/>
<rect x="220.77" y="1009.33" width="5.13" height="2.92" fill="#fff"/>
<line x1="355.22" y1="972.80" x2="355.22" y2="982.80" stroke="#000" stroke-width="3.6" />
<text x="355.22" y="1011.80" font-size="27" text-anchor="middle" fill="#000" font-weight="normal" >20</text>
<line x1="484.08" y1="972.80" x2="484.08" y2="982.80" stroke="#000" stroke-width="3.6" />
<text x="484.08" y="1011.80" font-size="27" text-anchor="middle" fill="#000" font-weight="normal" >30</text>
<line x1="612.94" y1="972.80" x2="612.94" y2="982.80" stroke="#000" stroke-width="3.6" />
<text x="612.94" y="1011.80" font-size="27" text-anchor="middle" fill="#000" font-weight="normal" >40</text>
<line x1="741.80" y1="972.80" x2="741.80" y2="982.80" stroke="#000" stroke-width="3.6" />
<text x="741.80" y="1011.80" font-size="27" text-anchor="middle" fill="#000" font-weight="normal" >50</text>
<line x1="870.66" y1="972.80" x2="870.66" y2="982.80" stroke="#000" stroke-width="3.6" />
<text x="870.66" y="1011.80" font-size="27" text-anchor="middle" fill="#000" font-weight="normal" >60</text>
<line x1="999.52" y1="972.80" x2="999.52" y2="982.80" stroke="#000" stroke-width="3.6" />
<text x="999.52" y="1011.80" font-size="27" text-anchor="middle" fill="#000" font-weight="normal" >70</text>
<text x="548.70" y="1053.00" font-size="28.6" text-anchor="middle" fill="#000" font-weight="normal" >Day</text>
<text transform="translate(24.60,739.50) rotate(-90)" font-size="29.4" text-anchor="middle" fill="#000">Weight (%baseline)</text>
<text x="543.80" y="470.50" font-size="25.4" text-anchor="middle" fill="#000" font-weight="normal" >start</text>
<text x="543.80" y="500.00" font-size="25.4" text-anchor="middle" fill="#000" font-weight="normal" >treatment</text>
<text x="634.50" y="470.50" font-size="25.4" text-anchor="start" fill="#000" font-weight="normal" >cuprizone</text>
<text x="634.50" y="500.00" font-size="25.4" text-anchor="start" fill="#000" font-weight="normal" >withdrawal</text>
<circle cx="751.8" cy="862" r="6.3" fill="none" stroke="#000" stroke-width="3.6"/>
<line x1="733.20" y1="862.00" x2="770.40" y2="862.00" stroke="#000" stroke-width="3.5" />
<text x="792.40" y="871.60" font-size="28.2" text-anchor="start" fill="#000" font-weight="normal" >Healthy</text>
<circle cx="751.8" cy="901.3" r="7" fill="#000"/>
<line x1="733.20" y1="901.30" x2="770.40" y2="901.30" stroke="#000" stroke-width="3.5" />
<text x="792.40" y="910.90" font-size="28.2" text-anchor="start" fill="#000" font-weight="normal" >CPZ/Vehicle</text>
<circle cx="751.8" cy="941.5" r="7" fill="#0d9a62"/>
<line x1="733.20" y1="941.50" x2="770.40" y2="941.50" stroke="#0d9a62" stroke-width="3.5" />
<text x="792.40" y="951.10" font-size="28.2" text-anchor="start" fill="#000" font-weight="normal" >CPZ/EOM</text>
<line x1="1207.70" y1="560.70" x2="1207.70" y2="972.70" stroke="#000" stroke-width="2.2" />
<line x1="1201.00" y1="971.60" x2="1531.00" y2="971.60" stroke="#000" stroke-width="2.2" />
<line x1="1201.00" y1="971.60" x2="1207.70" y2="971.60" stroke="#000" stroke-width="2.2" />
<text x="1196.60" y="980.60" font-size="26" text-anchor="end" fill="#000" font-weight="normal" >2500</text>
<line x1="1201.00" y1="835.00" x2="1207.70" y2="835.00" stroke="#000" stroke-width="2.2" />
<text x="1196.60" y="844.00" font-size="26" text-anchor="end" fill="#000" font-weight="normal" >3000</text>
<line x1="1201.00" y1="698.40" x2="1207.70" y2="698.40" stroke="#000" stroke-width="2.2" />
<text x="1196.60" y="707.40" font-size="26" text-anchor="end" fill="#000" font-weight="normal" >3500</text>
<line x1="1201.00" y1="561.80" x2="1207.70" y2="561.80" stroke="#000" stroke-width="2.2" />
<text x="1196.60" y="570.80" font-size="26" text-anchor="end" fill="#000" font-weight="normal" >4000</text>
<path d="M1272.2 653.6V645.8M1256.9 645.8H1287.5" stroke="#000" stroke-width="2.5" stroke-linecap="round" fill="none"/>
<rect x="1241.60" y="653.60" width="61.2" height="318.00" fill="#fff" stroke="#000" stroke-width="3.2"/>
<path d="M1369 738.5V733.1M1353.7 733.1H1384.3" stroke="#000" stroke-width="2.5" stroke-linecap="round" fill="none"/>
<rect x="1338.40" y="738.50" width="61.2" height="233.10" fill="#000" stroke="#000" stroke-width="3.2"/>
<path d="M1465.6 710.9V704.9M1450.3 704.9H1480.8999999999999" stroke="#000" stroke-width="2.5" stroke-linecap="round" fill="none"/>
<rect x="1435.00" y="710.90" width="61.2" height="260.70" fill="#0d9a62" stroke="#000" stroke-width="3.2"/>
<line x1="1207.70" y1="971.60" x2="1531.00" y2="971.60" stroke="#000" stroke-width="2.2" />
<line x1="1271.50" y1="971.60" x2="1271.50" y2="978.00" stroke="#000" stroke-width="2.2" />
<line x1="1368.60" y1="971.60" x2="1368.60" y2="978.00" stroke="#000" stroke-width="2.2" />
<line x1="1465.40" y1="971.60" x2="1465.40" y2="978.00" stroke="#000" stroke-width="2.2" />
<path d="M1362.7 676.5V666.6H1463.6V676.5" stroke="#000" stroke-width="2" fill="none"/>
<text x="1399.75" y="672.39" font-size="31" text-anchor="start" fill="#000" font-weight="normal" letter-spacing="2.1" stroke="#000" stroke-width="0.35">**</text>
<text x="1343.29" y="734.79" font-size="31" text-anchor="start" fill="#000" font-weight="normal" letter-spacing="2.1" stroke="#000" stroke-width="0.35">****</text>
<text x="1439.59" y="708.39" font-size="31" text-anchor="start" fill="#000" font-weight="normal" letter-spacing="2.1" stroke="#000" stroke-width="0.35">****</text>
<text transform="translate(1120.00,762.00) rotate(-90)" font-size="26.8" text-anchor="middle" fill="#000">AUC (days 36-70)</text>
<text transform="translate(1281.70,1002.60) rotate(-45)" font-size="27.2" text-anchor="end" fill="#000">Normal food</text>
<text transform="translate(1378.80,1002.60) rotate(-45)" font-size="27.2" text-anchor="end" fill="#000">CPZ/Vehicle</text>
<text transform="translate(1475.60,1002.60) rotate(-45)" font-size="27.2" text-anchor="end" fill="#000">CPZ/EOM</text>
<line x1="440.15" y1="1186.80" x2="440.15" y2="1540.80" stroke="#000" stroke-width="3.2" stroke-linecap="round" stroke-dasharray="5.0 10.5"/>
<line x1="507.71" y1="1185.60" x2="507.71" y2="1540.80" stroke="#000" stroke-width="3.2" stroke-linecap="round" stroke-dasharray="0.01 9.37"/>
<path d="M97.50 1303.94V1335.32M91.10 1303.94H103.90M91.10 1335.32H103.90" stroke="#000" stroke-width="2.0" fill="none"/>
<path d="M232.63 1338.53V1362.05M226.23 1338.53H239.03M226.23 1362.05H239.03" stroke="#000" stroke-width="2.0" fill="none"/>
<path d="M367.76 1333.18V1360.27M361.36 1333.18H374.16M361.36 1360.27H374.16" stroke="#000" stroke-width="2.0" fill="none"/>
<path d="M435.32 1393.78V1411.61M428.92 1393.78H441.72M428.92 1411.61H441.72" stroke="#000" stroke-width="2.0" fill="none"/>
<path d="M493.23 1348.15V1383.80M486.83 1348.15H499.63M486.83 1383.80H499.63" stroke="#000" stroke-width="2.0" fill="none"/>
<path d="M560.80 1333.89V1360.98M554.40 1333.89H567.20M554.40 1360.98H567.20" stroke="#000" stroke-width="2.0" fill="none"/>
<path d="M628.36 1332.46V1345.30M621.96 1332.46H634.76M621.96 1345.30H634.76" stroke="#000" stroke-width="2.0" fill="none"/>
<circle cx="97.50" cy="1319.63" r="6.4" fill="#000"/>
<circle cx="232.63" cy="1350.29" r="6.4" fill="#000"/>
<circle cx="367.76" cy="1346.72" r="6.4" fill="#000"/>
<circle cx="435.32" cy="1402.70" r="6.4" fill="#000"/>
<circle cx="493.23" cy="1365.98" r="6.4" fill="#000"/>
<circle cx="560.80" cy="1347.44" r="6.4" fill="#000"/>
<circle cx="628.36" cy="1338.88" r="6.4" fill="#000"/>
<polyline points="97.50,1319.63 232.63,1350.29 367.76,1346.72 435.32,1402.70" fill="none" stroke="#000" stroke-width="3.0" stroke-linejoin="round"/>
<polyline points="493.23,1365.98 560.80,1347.44 628.36,1338.88" fill="none" stroke="#000" stroke-width="3.0" stroke-linejoin="round"/>
<path d="M493.23 1347.79V1385.58M486.83 1347.79H499.63M486.83 1385.58H499.63" stroke="#0d9a62" stroke-width="2.0" fill="none"/>
<path d="M560.80 1347.08V1396.99M554.40 1347.08H567.20M554.40 1396.99H567.20" stroke="#0d9a62" stroke-width="2.0" fill="none"/>
<path d="M628.36 1311.79V1333.18M621.96 1311.79H634.76M621.96 1333.18H634.76" stroke="#0d9a62" stroke-width="2.0" fill="none"/>
<circle cx="493.23" cy="1366.69" r="6.4" fill="#0d9a62"/>
<circle cx="560.80" cy="1372.04" r="6.4" fill="#0d9a62"/>
<circle cx="628.36" cy="1322.48" r="6.4" fill="#0d9a62"/>
<polyline points="493.23,1366.69 560.80,1372.04 628.36,1322.48" fill="none" stroke="#0d9a62" stroke-width="3.0" stroke-linejoin="round"/>
<path d="M91.10 1298.45H103.90M91.10 1334.10H103.90M97.50 1298.45V1310.73M97.50 1321.83V1334.10" stroke="#000" stroke-width="2.0" fill="none"/>
<path d="M226.23 1281.84H239.03M226.23 1327.47H239.03M232.63 1281.84V1299.11M232.63 1310.21V1327.47" stroke="#000" stroke-width="2.0" fill="none"/>
<path d="M361.36 1264.73H374.16M361.36 1315.35H374.16M367.76 1264.73V1284.49M367.76 1295.59V1315.35" stroke="#000" stroke-width="2.0" fill="none"/>
<path d="M428.92 1304.66H441.72M428.92 1333.18H441.72M435.32 1304.66V1313.37M435.32 1324.47V1333.18" stroke="#000" stroke-width="2.0" fill="none"/>
<path d="M486.83 1275.78H499.63M486.83 1312.14H499.63M493.23 1275.78V1288.41M493.23 1299.51V1312.14" stroke="#000" stroke-width="2.0" fill="none"/>
<path d="M554.40 1276.14H567.20M554.40 1318.92H567.20M560.80 1276.14V1291.98M560.80 1303.08V1318.92" stroke="#000" stroke-width="2.0" fill="none"/>
<path d="M621.96 1260.81H634.76M621.96 1282.20H634.76M628.36 1260.81V1265.95M628.36 1277.05V1282.20" stroke="#000" stroke-width="2.0" fill="none"/>
<circle cx="97.50" cy="1316.28" r="5.75" fill="none" stroke="#000" stroke-width="3.3"/>
<circle cx="232.63" cy="1304.66" r="5.75" fill="none" stroke="#000" stroke-width="3.3"/>
<circle cx="367.76" cy="1290.04" r="5.75" fill="none" stroke="#000" stroke-width="3.3"/>
<circle cx="435.32" cy="1318.92" r="5.75" fill="none" stroke="#000" stroke-width="3.3"/>
<circle cx="493.23" cy="1293.96" r="5.75" fill="none" stroke="#000" stroke-width="3.3"/>
<circle cx="560.80" cy="1297.53" r="5.75" fill="none" stroke="#000" stroke-width="3.3"/>
<circle cx="628.36" cy="1271.50" r="5.75" fill="none" stroke="#000" stroke-width="3.3"/>
<polyline points="97.50,1316.28 232.63,1304.66 367.76,1290.04 435.32,1318.92 493.23,1293.96 560.80,1297.53 628.36,1271.50" fill="none" stroke="#000" stroke-width="3.0" stroke-linejoin="round"/>
<line x1="97.50" y1="1184.80" x2="97.50" y2="1544.50" stroke="#000" stroke-width="3.3" />
<line x1="95.85" y1="1542.80" x2="639.80" y2="1542.80" stroke="#000" stroke-width="3.4" />
<line x1="88.70" y1="1542.80" x2="97.50" y2="1542.80" stroke="#000" stroke-width="3.0" />
<text x="85.20" y="1551.20" font-size="24" text-anchor="end" fill="#000" font-weight="normal" >0</text>
<line x1="88.70" y1="1471.50" x2="97.50" y2="1471.50" stroke="#000" stroke-width="3.0" />
<text x="85.20" y="1479.90" font-size="24" text-anchor="end" fill="#000" font-weight="normal" >1</text>
<rect x="73.17" y="1477.66" width="4.47" height="2.69" fill="#fff"/>
<rect x="80.26" y="1477.66" width="4.56" height="2.69" fill="#fff"/>
<line x1="88.70" y1="1400.20" x2="97.50" y2="1400.20" stroke="#000" stroke-width="3.0" />
<text x="85.20" y="1408.60" font-size="24" text-anchor="end" fill="#000" font-weight="normal" >2</text>
<line x1="88.70" y1="1328.90" x2="97.50" y2="1328.90" stroke="#000" stroke-width="3.0" />
<text x="85.20" y="1337.30" font-size="24" text-anchor="end" fill="#000" font-weight="normal" >3</text>
<line x1="88.70" y1="1257.60" x2="97.50" y2="1257.60" stroke="#000" stroke-width="3.0" />
<text x="85.20" y="1266.00" font-size="24" text-anchor="end" fill="#000" font-weight="normal" >4</text>
<line x1="88.70" y1="1186.30" x2="97.50" y2="1186.30" stroke="#000" stroke-width="3.0" />
<text x="85.20" y="1194.70" font-size="24" text-anchor="end" fill="#000" font-weight="normal" >5</text>
<line x1="97.50" y1="1542.80" x2="97.50" y2="1551.60" stroke="#000" stroke-width="3.1" />
<text x="97.50" y="1577.60" font-size="24" text-anchor="middle" fill="#000" font-weight="normal" >0</text>
<line x1="194.02" y1="1542.80" x2="194.02" y2="1551.60" stroke="#000" stroke-width="3.1" />
<text x="194.02" y="1577.60" font-size="24" text-anchor="middle" fill="#000" font-weight="normal" >10</text>
<rect x="181.99" y="1575.36" width="4.47" height="2.69" fill="#fff"/>
<rect x="189.08" y="1575.36" width="4.56" height="2.69" fill="#fff"/>
<line x1="290.54" y1="1542.80" x2="290.54" y2="1551.60" stroke="#000" stroke-width="3.1" />
<text x="290.54" y="1577.60" font-size="24" text-anchor="middle" fill="#000" font-weight="normal" >20</text>
<line x1="387.06" y1="1542.80" x2="387.06" y2="1551.60" stroke="#000" stroke-width="3.1" />
<text x="387.06" y="1577.60" font-size="24" text-anchor="middle" fill="#000" font-weight="normal" >30</text>
<line x1="483.58" y1="1542.80" x2="483.58" y2="1551.60" stroke="#000" stroke-width="3.1" />
<text x="483.58" y="1577.60" font-size="24" text-anchor="middle" fill="#000" font-weight="normal" >40</text>
<line x1="580.10" y1="1542.80" x2="580.10" y2="1551.60" stroke="#000" stroke-width="3.1" />
<text x="580.10" y="1577.60" font-size="24" text-anchor="middle" fill="#000" font-weight="normal" >50</text>
<text x="368.40" y="1613.75" font-size="26.3" text-anchor="middle" fill="#000" font-weight="normal" >Day</text>
<text transform="translate(58.50,1363.40) rotate(-90)" font-size="26.3" text-anchor="middle" fill="#000">Force (g)</text>
<text x="361.61" y="1267.42" font-size="41" text-anchor="start" fill="#000" font-weight="normal" stroke="#000" stroke-width="0.5">*</text>
<text x="422.11" y="1307.92" font-size="41" text-anchor="start" fill="#000" font-weight="normal" stroke="#000" stroke-width="0.5">*</text>
<text x="441.31" y="1307.92" font-size="41" text-anchor="start" fill="#000" font-weight="normal" stroke="#000" stroke-width="0.5">*</text>
<text x="485.91" y="1265.02" font-size="41" text-anchor="start" fill="#0d9a62" font-weight="normal" stroke="#0d9a62" stroke-width="0.5">*</text>
<text x="485.91" y="1287.02" font-size="41" text-anchor="start" fill="#000" font-weight="normal" stroke="#000" stroke-width="0.5">*</text>
<text x="553.31" y="1281.72" font-size="41" text-anchor="start" fill="#0d9a62" font-weight="normal" stroke="#0d9a62" stroke-width="0.5">*</text>
<circle cx="135.2" cy="1440" r="5.75" fill="none" stroke="#000" stroke-width="3.3"/>
<line x1="118.75" y1="1440.00" x2="151.60" y2="1440.00" stroke="#000" stroke-width="3.0" />
<text x="170.80" y="1448.40" font-size="25.2" text-anchor="start" fill="#000" font-weight="normal" >Healthy</text>
<circle cx="135.2" cy="1477.3" r="6.4" fill="#000"/>
<line x1="118.75" y1="1477.30" x2="151.60" y2="1477.30" stroke="#000" stroke-width="3.0" />
<text x="170.80" y="1485.70" font-size="25.2" text-anchor="start" fill="#000" font-weight="normal" >CPZ/Vehicle</text>
<circle cx="135.2" cy="1513.6" r="6.4" fill="#0d9a62"/>
<line x1="118.75" y1="1513.60" x2="151.60" y2="1513.60" stroke="#0d9a62" stroke-width="3.0" />
<text x="170.80" y="1522.00" font-size="25.2" text-anchor="start" fill="#000" font-weight="normal" >CPZ/EOM</text>
<line x1="1257.81" y1="1188.80" x2="1257.81" y2="1542.80" stroke="#000" stroke-width="3.2" stroke-linecap="round" stroke-dasharray="5.0 10.5"/>
<line x1="1324.76" y1="1187.60" x2="1324.76" y2="1542.80" stroke="#000" stroke-width="3.2" stroke-linecap="round" stroke-dasharray="0.01 9.37"/>
<path d="M1052.16 1282.49V1302.45M1045.76 1282.49H1058.56M1045.76 1302.45H1058.56" stroke="#000" stroke-width="2.0" fill="none"/>
<path d="M1186.07 1342.54V1389.23M1179.67 1342.54H1192.47M1179.67 1389.23H1192.47" stroke="#000" stroke-width="2.0" fill="none"/>
<path d="M1253.03 1335.41V1374.62M1246.62 1335.41H1259.43M1246.62 1374.62H1259.43" stroke="#000" stroke-width="2.0" fill="none"/>
<path d="M1310.41 1319.56V1384.78M1304.01 1319.56H1316.82M1304.01 1384.78H1316.82" stroke="#000" stroke-width="2.0" fill="none"/>
<path d="M1377.37 1285.88V1347.53M1370.97 1285.88H1383.77M1370.97 1347.53H1383.77" stroke="#000" stroke-width="2.0" fill="none"/>
<circle cx="918.25" cy="1280.53" r="6.4" fill="#000"/>
<circle cx="1052.16" cy="1292.47" r="6.4" fill="#000"/>
<circle cx="1186.07" cy="1365.89" r="6.4" fill="#000"/>
<circle cx="1253.03" cy="1355.02" r="6.4" fill="#000"/>
<circle cx="1310.41" cy="1352.17" r="6.4" fill="#000"/>
<circle cx="1377.37" cy="1316.70" r="6.4" fill="#000"/>
<circle cx="1444.32" cy="1277.50" r="6.4" fill="#000"/>
<polyline points="918.25,1280.53 1052.16,1292.47 1186.07,1365.89 1253.03,1355.02" fill="none" stroke="#000" stroke-width="3.0" stroke-linejoin="round"/>
<polyline points="1310.41,1352.17 1377.37,1316.70 1444.32,1277.50" fill="none" stroke="#000" stroke-width="3.0" stroke-linejoin="round"/>
<path d="M1310.41 1339.16V1398.68M1304.01 1339.16H1316.82M1304.01 1398.68H1316.82" stroke="#0d9a62" stroke-width="2.0" fill="none"/>
<path d="M1377.37 1285.88V1328.29M1370.97 1285.88H1383.77M1370.97 1328.29H1383.77" stroke="#0d9a62" stroke-width="2.0" fill="none"/>
<path d="M1444.32 1288.19V1334.52M1437.92 1288.19H1450.72M1437.92 1334.52H1450.72" stroke="#0d9a62" stroke-width="2.0" fill="none"/>
<circle cx="1310.41" cy="1368.92" r="6.4" fill="#0d9a62"/>
<circle cx="1377.37" cy="1307.08" r="6.4" fill="#0d9a62"/>
<circle cx="1444.32" cy="1311.36" r="6.4" fill="#0d9a62"/>
<polyline points="1310.41,1368.92 1377.37,1307.08 1444.32,1311.36" fill="none" stroke="#0d9a62" stroke-width="3.0" stroke-linejoin="round"/>
<path d="M1045.76 1277.50H1058.56M1045.76 1295.32H1058.56M1052.16 1277.50V1280.86M1052.16 1291.96V1295.32" stroke="#000" stroke-width="2.0" fill="none"/>
<path d="M1179.67 1281.95H1192.47M1179.67 1297.99H1192.47M1186.07 1281.95V1284.42M1186.07 1295.52V1297.99" stroke="#000" stroke-width="2.0" fill="none"/>
<circle cx="918.25" cy="1280.53" r="5.75" fill="none" stroke="#000" stroke-width="3.3"/>
<circle cx="1052.16" cy="1286.41" r="5.75" fill="none" stroke="#000" stroke-width="3.3"/>
<circle cx="1186.07" cy="1289.97" r="5.75" fill="none" stroke="#000" stroke-width="3.3"/>
<circle cx="1253.03" cy="1280.53" r="5.75" fill="none" stroke="#000" stroke-width="3.3"/>
<circle cx="1310.41" cy="1289.97" r="5.75" fill="none" stroke="#000" stroke-width="3.3"/>
<circle cx="1377.37" cy="1283.20" r="5.75" fill="none" stroke="#000" stroke-width="3.3"/>
<circle cx="1444.32" cy="1277.50" r="5.75" fill="none" stroke="#000" stroke-width="3.3"/>
<polyline points="918.25,1280.53 1052.16,1286.41 1186.07,1289.97 1253.03,1280.53 1310.41,1289.97 1377.37,1283.20 1444.32,1277.50" fill="none" stroke="#000" stroke-width="3.0" stroke-linejoin="round"/>
<line x1="918.10" y1="1186.80" x2="918.10" y2="1546.50" stroke="#000" stroke-width="3.3" />
<line x1="916.45" y1="1544.80" x2="1455.30" y2="1544.80" stroke="#000" stroke-width="3.4" />
<line x1="909.30" y1="1544.80" x2="918.10" y2="1544.80" stroke="#000" stroke-width="3.0" />
<text x="906.30" y="1553.20" font-size="24" text-anchor="end" fill="#000" font-weight="normal" >0</text>
<line x1="909.30" y1="1455.70" x2="918.10" y2="1455.70" stroke="#000" stroke-width="3.0" />
<text x="906.30" y="1464.10" font-size="24" text-anchor="end" fill="#000" font-weight="normal" >5</text>
<line x1="909.30" y1="1366.60" x2="918.10" y2="1366.60" stroke="#000" stroke-width="3.0" />
<text x="906.30" y="1375.00" font-size="24" text-anchor="end" fill="#000" font-weight="normal" >10</text>
<rect x="880.92" y="1372.76" width="4.47" height="2.69" fill="#fff"/>
<rect x="888.01" y="1372.76" width="4.56" height="2.69" fill="#fff"/>
<line x1="909.30" y1="1277.50" x2="918.10" y2="1277.50" stroke="#000" stroke-width="3.0" />
<text x="906.30" y="1285.90" font-size="24" text-anchor="end" fill="#000" font-weight="normal" >15</text>
<rect x="880.92" y="1283.66" width="4.47" height="2.69" fill="#fff"/>
<rect x="888.01" y="1283.66" width="4.56" height="2.69" fill="#fff"/>
<line x1="909.30" y1="1188.40" x2="918.10" y2="1188.40" stroke="#000" stroke-width="3.0" />
<text x="906.30" y="1196.80" font-size="24" text-anchor="end" fill="#000" font-weight="normal" >20</text>
<line x1="918.25" y1="1544.80" x2="918.25" y2="1553.60" stroke="#000" stroke-width="3.1" />
<text x="918.25" y="1579.60" font-size="24" text-anchor="middle" fill="#000" font-weight="normal" >0</text>
<line x1="1013.90" y1="1544.80" x2="1013.90" y2="1553.60" stroke="#000" stroke-width="3.1" />
<text x="1013.90" y="1579.60" font-size="24" text-anchor="middle" fill="#000" font-weight="normal" >10</text>
<rect x="1001.87" y="1577.36" width="4.47" height="2.69" fill="#fff"/>
<rect x="1008.96" y="1577.36" width="4.56" height="2.69" fill="#fff"/>
<line x1="1109.55" y1="1544.80" x2="1109.55" y2="1553.60" stroke="#000" stroke-width="3.1" />
<text x="1109.55" y="1579.60" font-size="24" text-anchor="middle" fill="#000" font-weight="normal" >20</text>
<line x1="1205.20" y1="1544.80" x2="1205.20" y2="1553.60" stroke="#000" stroke-width="3.1" />
<text x="1205.20" y="1579.60" font-size="24" text-anchor="middle" fill="#000" font-weight="normal" >30</text>
<line x1="1300.85" y1="1544.80" x2="1300.85" y2="1553.60" stroke="#000" stroke-width="3.1" />
<text x="1300.85" y="1579.60" font-size="24" text-anchor="middle" fill="#000" font-weight="normal" >40</text>
<line x1="1396.50" y1="1544.80" x2="1396.50" y2="1553.60" stroke="#000" stroke-width="3.1" />
<text x="1396.50" y="1579.60" font-size="24" text-anchor="middle" fill="#000" font-weight="normal" >50</text>
<text x="1185.70" y="1615.60" font-size="26.3" text-anchor="middle" fill="#000" font-weight="normal" >Day</text>
<text transform="translate(866.00,1366.00) rotate(-90)" font-size="26.3" text-anchor="middle" fill="#000">Score</text>
<text x="1178.51" y="1284.72" font-size="41" text-anchor="start" fill="#000" font-weight="normal" stroke="#000" stroke-width="0.5">*</text>
<text x="1242.31" y="1276.52" font-size="41" text-anchor="start" fill="#000" font-weight="normal" stroke="#000" stroke-width="0.5">*</text>
<text x="1304.61" y="1260.82" font-size="41" text-anchor="start" fill="#0d9a62" font-weight="normal" stroke="#0d9a62" stroke-width="0.5">*</text>
<text x="1303.81" y="1286.22" font-size="41" text-anchor="start" fill="#000" font-weight="normal" stroke="#000" stroke-width="0.5">*</text>
</svg>
</body></html>
